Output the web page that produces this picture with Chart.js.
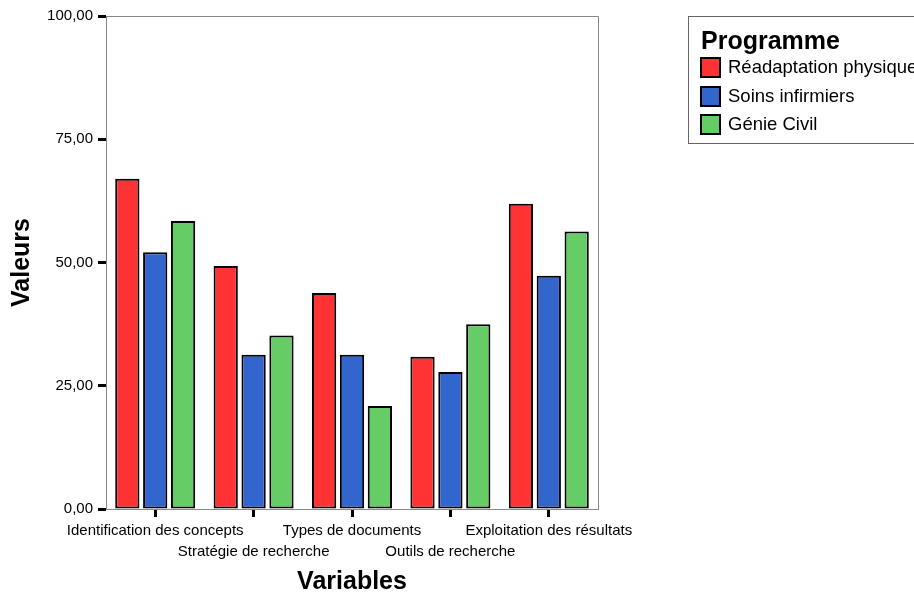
<!DOCTYPE html>
<html>
<head>
<meta charset="utf-8">
<script src="https://cdn.jsdelivr.net/npm/chart.js@4/dist/chart.umd.min.js"></script>
<style>
  html, body { margin: 0; padding: 0; background: #fff; }
  #wrap { width: 914px; height: 592px; position: relative; }
</style>
</head>
<body>
<div id="wrap"><canvas id="c" width="914" height="592"></canvas></div>
<script>
const categories = [
  'Identification des concepts',
  'Stratégie de recherche',
  'Types de documents',
  'Outils de recherche',
  'Exploitation des résultats'
];
const seriesNames = ['Réadaptation physique', 'Soins infirmiers', 'Génie Civil'];
const readaptation = [67.0, 49.3, 43.8, 30.9, 61.9];
const soins = [52.1, 31.3, 31.3, 27.8, 47.3];
const genie = [58.4, 35.2, 20.9, 37.5, 56.3];
const yTicks = [0, 25, 50, 75, 100];
const colors = ['#FF3333', '#3366CC', '#66CC66'];
const legendTitle = 'Programme';
const xTitle = 'Variables';
const yTitle = 'Valeurs';

const FONT = '"Liberation Sans", Arial, Helvetica, sans-serif';

// Staggered labels: every second category goes on a second line
const xLabels = categories.map((c, i) => (i % 2 === 1 ? ['', c] : c));

const frame = {
  id: 'frame',
  afterDatasetsDraw(chart) {
    const { ctx, chartArea: a } = chart;
    ctx.save();
    ctx.strokeStyle = '#888';
    ctx.lineWidth = 1;
    ctx.beginPath();
    ctx.moveTo(a.left, a.top + 0.5);
    ctx.lineTo(a.right + 0.5, a.top + 0.5);
    ctx.lineTo(a.right + 0.5, a.bottom);
    ctx.stroke();
    ctx.restore();
  },
  afterDraw(chart) {
    const { ctx } = chart;
    ctx.save();
    // legend box
    ctx.strokeStyle = '#666';
    ctx.lineWidth = 1;
    ctx.strokeRect(688.5, 16.5, 240, 127);
    ctx.fillStyle = '#000';
    ctx.font = 'bold 25px ' + FONT;
    ctx.textBaseline = 'alphabetic';
    ctx.textAlign = 'left';
    ctx.fillText(legendTitle, 701, 49);
    const tops = [57, 86, 114];
    ctx.font = '18.5px ' + FONT;
    chart.data.datasets.forEach((ds, i) => {
      const t = tops[i];
      ctx.fillStyle = ds.backgroundColor;
      ctx.fillRect(700, t, 21, 21);
      ctx.strokeStyle = '#000';
      ctx.lineWidth = 2;
      ctx.strokeRect(701, t + 1, 19, 19);
      ctx.fillStyle = '#000';
      ctx.textBaseline = 'middle';
      ctx.fillText(ds.label, 728, t + 11);
    });
    ctx.restore();
  }
};

new Chart(document.getElementById('c'), {
  type: 'bar',
  data: {
    labels: xLabels,
    datasets: [
      { label: seriesNames[0], data: readaptation, backgroundColor: colors[0] },
      { label: seriesNames[1], data: soins, backgroundColor: colors[1] },
      { label: seriesNames[2], data: genie, backgroundColor: colors[2] }
    ].map(d => Object.assign(d, {
      borderColor: '#000', borderWidth: 2, borderSkipped: false,
      categoryPercentage: 0.85, barPercentage: 0.87
    }))
  },
  options: {
    responsive: false,
    animation: false,
    devicePixelRatio: 1,
    layout: { padding: { top: 16, right: 316, left: 0, bottom: 0 } },
    plugins: { legend: { display: false }, tooltip: { enabled: false } },
    scales: {
      x: {
        afterFit(s) { s.height = 83; },
        grid: { offset: false, drawOnChartArea: false, drawTicks: true, tickLength: 8, tickWidth: 3, tickColor: '#000' },
        border: { color: '#888', width: 1 },
        ticks: {
          autoSkip: false, maxRotation: 0, minRotation: 0, padding: 3,
          color: '#000', font: { family: FONT, size: 15, lineHeight: 1.4 }
        },
        title: {
          display: true, text: xTitle, color: '#000',
          font: { family: FONT, size: 25, weight: 'bold', lineHeight: 0.8 },
          padding: { top: 0, bottom: 0 }
        }
      },
      y: {
        min: 0, max: 100,
        afterFit(s) { s.width = 106; },
        afterBuildTicks(s) { s.ticks = yTicks.map(v => ({ value: v })); },
        grid: { drawOnChartArea: false, drawTicks: true, tickLength: 8, tickWidth: 3, tickColor: '#000' },
        border: { color: '#888', width: 1 },
        ticks: {
          padding: 5, color: '#000',
          font: { family: FONT, size: 15 },
          callback: v => v.toFixed(2).replace('.', ',')
        },
        title: {
          display: true, text: yTitle, color: '#000',
          font: { family: FONT, size: 25, weight: 'bold', lineHeight: 0.8 },
          padding: { top: 12, bottom: 0 }
        }
      }
    }
  },
  plugins: [frame]
});
</script>
</body>
</html>
